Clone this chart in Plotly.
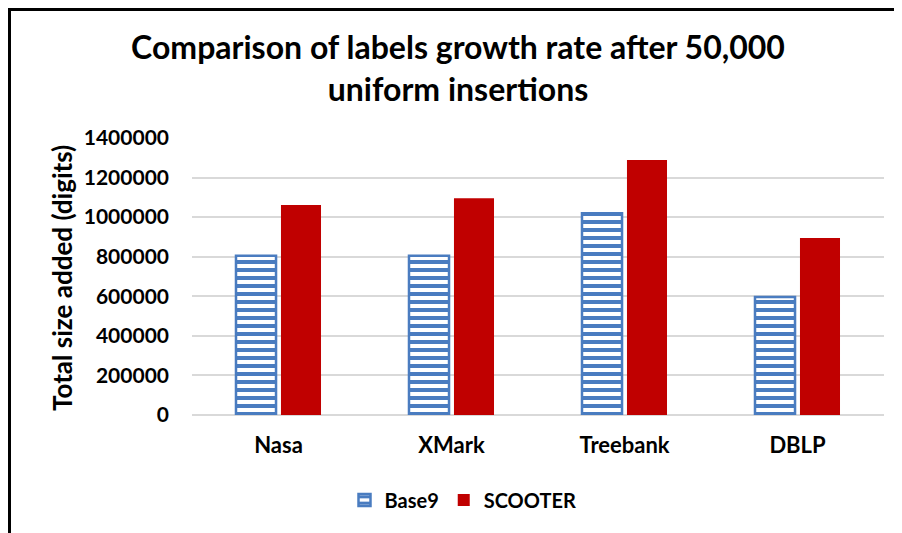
import plotly.graph_objects as go

categories = ["Nasa", "XMark", "Treebank", "DBLP"]
base9 = [805000, 805000, 1020000, 596000]
scooter = [1062000, 1096000, 1289000, 894000]
y_ticks = [0, 200000, 400000, 600000, 800000, 1000000, 1200000, 1400000]

OFF = 8  # page body margin
W, H = 902, 533
L, R, T, B = 192 - OFF, 26, 138 - OFF, 533 - (415 - OFF)
pw, ph = W - L - R, H - T - B

def px(x):
    return (x - OFF - L) / pw

def py(y):
    return (H - B - (y - OFF)) / ph

FONT = "Lato"
blue = "#4A7CC0"
red = "#C00000"

fig = go.Figure()
fig.add_trace(go.Bar(
    name="<b>Base9</b>", x=categories, y=base9,
    marker=dict(color="white", line=dict(color=blue, width=2.5),
                pattern=dict(shape="-", fgcolor=blue, bgcolor="white", fgopacity=1,
                             fillmode="replace", size=8, solidity=0.5)),
))
fig.add_trace(go.Bar(
    name="<b>SCOOTER</b>", x=categories, y=scooter,
    marker=dict(color=red, line=dict(color=red, width=0)),
))

fig.update_layout(
    width=W, height=H,
    margin=dict(l=L, r=R, t=T, b=B),
    paper_bgcolor="white", plot_bgcolor="white",
    barmode="group", bargap=0.48, bargroupgap=0.11,
    font=dict(family=FONT, color="black"),
    title=dict(text="<b>Comparison of labels growth rate after 50,000<br>uniform insertions</b>",
               x=(458 - OFF) / W, xanchor="center", xref="container",
               y=1 - (67 - 2 * OFF) / H, yanchor="middle", yref="container",
               font=dict(size=32, family=FONT, color="black")),
    xaxis=dict(showgrid=False, showline=False, ticks="",
               tickvals=categories, ticktext=[f"<b>{c}</b>" for c in categories],
               tickfont=dict(size=22, family=FONT, color="black"),
               ticklabelstandoff=15),
    yaxis=dict(range=[0, 1400000], tickvals=y_ticks,
               ticktext=[f"<b>{v}</b>" for v in y_ticks],
               showgrid=True, gridcolor="#D9D9D9", gridwidth=2,
               zeroline=True, zerolinecolor="#D9D9D9", zerolinewidth=2,
               showline=False, ticks="",
               tickfont=dict(size=21, family=FONT, color="black"),
               ticklabelstandoff=22),
    legend=dict(orientation="h", x=(463 - OFF) / W, xanchor="center", xref="container",
                y=(33 + OFF) / H, yanchor="middle", yref="container",
                font=dict(size=20, family=FONT, color="black"),
                traceorder="normal"),
    showlegend=True,
)

fig.add_annotation(text="<b>Total size added (digits)</b>", textangle=-90,
                   x=px(62), y=py(278), xref="paper", yref="paper",
                   xanchor="center", yanchor="middle",
                   showarrow=False, font=dict(size=26, family=FONT, color="black"))

fig.add_shape(type="rect", xref="paper", yref="paper",
              x0=(1.5 - L) / pw, y0=py(570), x1=px(930), y1=(H - B - 1.5) / ph,
              line=dict(color="black", width=3), fillcolor="rgba(0,0,0,0)", layer="above")

fig.write_html("out.html")
